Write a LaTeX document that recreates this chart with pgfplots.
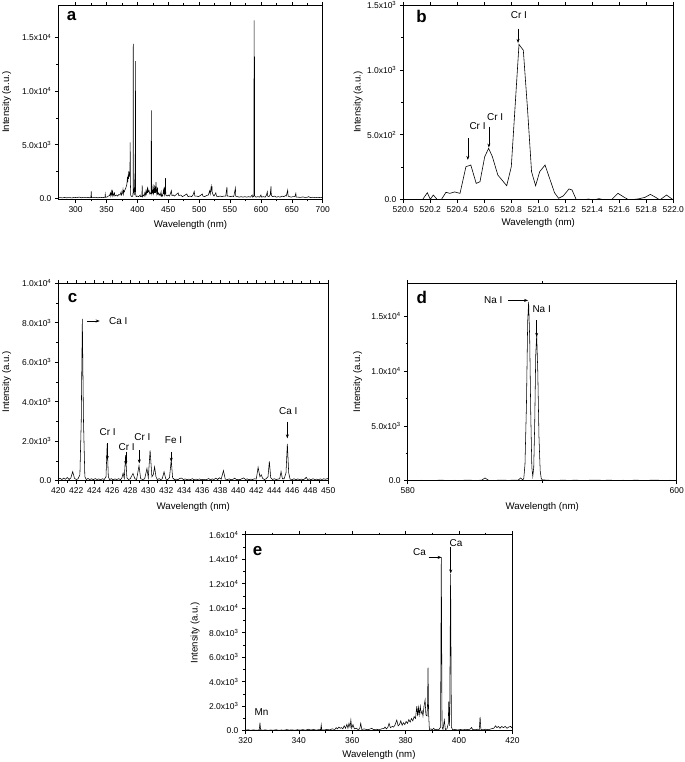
\documentclass[border=0pt]{standalone}
\usepackage{fontspec}
\setmainfont{Liberation Sans}
\usepackage{pgfplots}
\pgfplotsset{compat=1.18}
\usetikzlibrary{arrows.meta}
\pgfplotsset{
  panel/.style={
    scale only axis,
    scaled x ticks=false, scaled y ticks=false,
    axis line style={line width=0.8pt},
    tick align=outside,
    xtick pos=both, ytick pos=left,
    major tick length=3.5bp, minor tick length=2bp,
    every tick/.style={black, line width=0.6pt},
    tick label style={font=\fontsize{8.5}{9}\selectfont},
    label style={font=\fontsize{9.7}{11}\selectfont},
    xlabel={Wavelength (nm)}, ylabel={Intensity (a.u.)},
    minor x tick num=1, minor y tick num=1,
    anchor=south west,
  },
  spec/.style={black, line width=0.55pt, no marks},
}
\tikzset{
  arr/.style={-{Stealth[length=4bp,width=3bp]}, line width=0.6pt},
  ann/.style={font=\fontsize{10}{11}\selectfont},
  lett/.style={font=\bfseries\fontsize{17}{17}\selectfont},
}
\begin{document}
\begin{tikzpicture}
\useasboundingbox (0,0) rectangle (685bp,-762bp);
% ---------------- a ----------------
\begin{axis}[panel, at={(58.3bp,-199.3bp)}, width=264.4bp, height=194bp,
  xmin=272, xmax=700, ymin=-100, ymax=18000,
  xtick={300,350,...,700}, xticklabels={300,350,400,450,500,550,600,650,700},
  ytick={0,5000,10000,15000},
  yticklabels={0.0,5.0x10\textsuperscript{3},1.0x10\textsuperscript{4},1.5x10\textsuperscript{4}},
  xlabel style={at={(axis description cs:0.5,-0.132)}, anchor=center},
  ylabel style={at={(axis description cs:-0.195,0.5)}, anchor=center}]
\addplot[spec] coordinates {
(272,40) (276,60) (278,30) (282,70) (285,40) (290,60) (294,30) (298,80) (302,50) (306,110) (309,40) (313,90) (317,50) (320,80) (323,40) (324.8,60) (325.3,650) (325.8,60) (328,50) (332,90) (336,40) (340,80) (344,60) (347.5,90) (348,350) (348.5,80) (351,120) (353,200) (355,250) (356.5,500) (357,200) (358,400) (358.7,800) (359.3,300) (360,600) (361,250) (363,500) (363.5,200) (366,300) (368,200) (370,350) (372,300) (373.7,600) (374.3,300) (376,500) (376.7,800) (377.3,400) (378,700) (379,600) (380,800) (381,900) (382,1100) (383,1300) (384,2000) (384.5,1500) (385,2200) (385.6,1800) (386,2500) (386.6,2100) (387,2400) (387.5,2000) (388,2600) (388.35,5200) (388.7,1500) (389.2,300) (390,200) (391,150) (392.5,200) (393.0,500) (393.37,14400) (393.7,500) (394.4,900) (395,300) (396.1,2300) (396.5,600) (396.85,12800) (397.2,400) (398,150) (400,200) (402,150) (404.5,300) (405,150) (407.3,150) (407.8,1200) (408.3,150) (410,300) (411,200) (412,500) (413,300) (414,700) (415,400) (416,800) (416.5,500) (417,900) (418,600) (419,700) (420,400) (421,500) (421.6,500) (422.2,400) (422.67,8200) (423.1,400) (424,700) (425,500) (425.43,1300) (425.9,400) (427,600) (427.5,1200) (428,500) (429,900) (429.5,500) (430.2,1500) (430.8,700) (431.5,400) (432.5,1000) (433,400) (434,500) (435,300) (436,400) (437,250) (438.4,600) (439,200) (440,300) (441,200) (442.2,700) (442.8,400) (443.5,1000) (444,300) (444.9,500) (445.48,1880) (446,300) (448,200) (450,300) (452,200) (453,350) (455,700) (456,250) (458,300) (460,200) (463,350) (466,500) (467,250) (470,300) (473,150) (476,250) (480,400) (482,150) (485,200) (488,150) (490,300) (492,650) (493,200) (496,200) (499,150) (502,250) (505,400) (506,200) (509,150) (512,250) (515,300) (516,500) (517,700) (518,400) (519,900) (519.5,1100) (520,800) (520.8,1100) (521,600) (522,400) (524,200) (527,500) (528,200) (531,150) (534,200) (537,150) (540,200) (543,200) (545,1050) (545.5,200) (548,200) (551,150) (554,200) (556,150) (558.7,950) (559.2,200) (562,150) (565,100) (568,150) (571,100) (574,150) (577,100) (580,150) (583,100) (585.8,300) (586.5,100) (588,150) (588.5,250) (588.99,16600) (589.3,500) (589.59,13200) (589.9,200) (592,100) (595,150) (598,100) (600,300) (601,100) (604,150) (607,100) (609,300) (610.3,600) (611,200) (613,150) (615,300) (616.3,1100) (616.8,250) (619,150) (622,200) (625,100) (628,150) (631,100) (634,200) (637,150) (640,250) (641,200) (643.3,750) (644,200) (646,150) (649,100) (652,150) (655,150) (656.5,450) (657.2,100) (660,100) (664,80) (668,120) (672,70) (676,100) (677,150) (680,60) (684,90) (688,50) (692,80) (696,60) (700,70)
};
\node[lett] at (rel axis cs:0.05,0.946) {a};
\end{axis}
% ---------------- b ----------------
\begin{axis}[panel, at={(403.3bp,-199.3bp)}, width=270bp, height=194bp,
  xmin=520, xmax=522, ymin=0, ymax=1500,
  xtick={520,520.2,...,522.01},
  xticklabels={520.0,520.2,520.4,520.6,520.8,521.0,521.2,521.4,521.6,521.8,522.0},
  ytick={0,500,1000,1500},
  yticklabels={0.0,5.0x10\textsuperscript{2},1.0x10\textsuperscript{3},1.5x10\textsuperscript{3}},
  xlabel style={at={(axis description cs:0.5,-0.122)}, anchor=center},
  ylabel style={at={(axis description cs:-0.167,0.5)}, anchor=center}]
\addplot[spec, line width=0.6pt] coordinates {
(520.00,-40) (520.10,-20) (520.144,0) (520.178,51) (520.20,0) (520.222,33) (520.25,0) (520.28,-5) (520.316,54) (520.345,46) (520.38,57) (520.42,46) (520.464,252) (520.50,265) (520.54,123) (520.568,136) (520.603,329) (520.632,394) (520.66,329) (520.70,188) (520.766,105) (520.80,252) (520.857,1197) (520.889,1153) (520.92,700) (520.95,213) (520.98,105) (521.01,213) (521.05,265) (521.12,51) (521.15,8) (521.185,26) (521.227,80) (521.25,72) (521.28,0) (521.33,-5) (521.37,2) (521.41,-5) (521.45,5) (521.49,-5) (521.54,-5) (521.59,46) (521.63,20) (521.67,-5) (521.74,3) (521.79,15) (521.83,38) (521.87,15) (521.9,-5) (521.95,33) (522.0,-5)
};
\node[lett] at (rel axis cs:0.068,0.94) {b};
\node[ann] at (axis cs:520.857,1423) {Cr I};
\draw[arr] (axis cs:520.85,1320) -- (axis cs:520.85,1209);
\node[ann] at (axis cs:520.55,566) {Cr I};
\draw[arr] (axis cs:520.478,471) -- (axis cs:520.478,305);
\node[ann] at (axis cs:520.68,633) {Cr I};
\draw[arr] (axis cs:520.634,561) -- (axis cs:520.634,400);
\end{axis}
% ---------------- c ----------------
\begin{axis}[panel, at={(58.3bp,-480.7bp)}, width=270bp, height=197.4bp,
  xmin=420, xmax=450, ymin=0, ymax=10000,
  xtick={420,422,...,450},
  xticklabels={420,422,424,426,428,430,432,434,436,438,440,442,444,446,448,450},
  ytick={0,2000,4000,6000,8000,10000},
  yticklabels={0.0,2.0x10\textsuperscript{3},4.0x10\textsuperscript{3},6.0x10\textsuperscript{3},8.0x10\textsuperscript{3},1.0x10\textsuperscript{4}},
  xlabel style={at={(axis description cs:0.5,-0.132)}, anchor=center},
  ylabel style={at={(axis description cs:-0.191,0.5)}, anchor=center}]
\addplot[spec] coordinates {
(420.0,80) (420.2,120) (420.4,60) (420.6,130) (420.8,70) (421.0,160) (421.2,60) (421.4,150) (421.6,460) (421.8,120) (422.0,60) (422.2,100) (422.4,300) (422.55,3000) (422.67,8200) (422.8,3000) (422.95,200) (423.1,60) (423.3,110) (423.5,60) (423.7,100) (423.9,50) (424.1,110) (424.3,60) (424.5,90) (424.7,50) (424.9,100) (425.1,60) (425.3,200) (425.43,1850) (425.56,200) (425.7,60) (425.9,100) (426.1,50) (426.3,90) (426.5,60) (426.7,100) (426.9,60) (427.05,120) (427.2,380) (427.33,120) (427.48,1300) (427.62,150) (427.8,60) (428.0,100) (428.3,370) (428.5,100) (428.7,60) (428.97,760) (429.15,100) (429.4,60) (429.6,100) (429.85,620) (430.0,150) (430.2,1540) (430.4,200) (430.55,300) (430.7,700) (430.85,200) (431.0,60) (431.2,100) (431.4,60) (431.55,100) (431.75,450) (431.95,80) (432.15,60) (432.35,150) (432.55,1050) (432.7,150) (432.9,60) (433.1,80) (433.3,50) (433.5,120) (433.7,130) (433.9,60) (434.1,90) (434.3,50) (434.5,80) (434.7,60) (434.9,100) (435.1,50) (435.3,80) (435.5,60) (435.7,90) (435.9,50) (436.1,70) (436.3,50) (436.5,60) (436.7,110) (436.9,50) (437.1,90) (437.3,60) (437.5,130) (437.7,60) (437.9,150) (438.1,80) (438.35,510) (438.55,80) (438.8,60) (439.0,90) (439.2,50) (439.4,70) (439.6,130) (439.8,50) (440.0,70) (440.2,60) (440.4,100) (440.6,140) (440.8,60) (441.0,90) (441.2,50) (441.4,80) (441.6,60) (441.8,100) (442.0,80) (442.2,680) (442.4,200) (442.55,300) (442.7,120) (442.9,60) (443.1,100) (443.3,200) (443.45,980) (443.6,150) (443.8,60) (444.0,100) (444.2,60) (444.4,80) (444.6,100) (444.75,460) (444.9,100) (445.1,100) (445.3,400) (445.45,1870) (445.6,400) (445.75,80) (446.0,60) (446.2,100) (446.4,50) (446.6,90) (446.8,60) (447.0,80) (447.2,50) (447.4,100) (447.55,170) (447.7,60) (447.9,90) (448.1,50) (448.3,100) (448.5,60) (448.7,80) (448.9,50) (449.1,90) (449.3,60) (449.5,100) (449.7,70) (449.9,110) (450.0,80)
};
\node[lett] at (rel axis cs:0.053,0.927) {c};
\node[ann] at (axis cs:426.67,8090) {Ca I};
\draw[arr] (axis cs:423.2,8090) -- (axis cs:424.6,8090);
\node[ann] at (axis cs:425.48,2483) {Cr I};
\draw[arr] (axis cs:425.45,1890) -- (axis cs:425.45,1050);
\node[ann] at (axis cs:427.6,1723) {Cr I};
\draw[arr] (axis cs:427.5,1470) -- (axis cs:427.5,794);
\node[ann] at (axis cs:429.34,2230) {Cr I};
\draw[arr] (axis cs:429.0,1554) -- (axis cs:429.0,878);
\node[ann] at (axis cs:432.8,2060) {Fe I};
\draw[arr] (axis cs:432.55,1470) -- (axis cs:432.55,963);
\node[ann] at (axis cs:445.56,3530) {Ca I};
\draw[arr] (axis cs:445.45,2990) -- (axis cs:445.45,2145);
\end{axis}
% ---------------- d ----------------
\begin{axis}[panel, at={(407.7bp,-480.7bp)}, width=269bp, height=197.4bp,
  xmin=580, xmax=600, ymin=0, ymax=18000,
  xtick={580,600}, xticklabels={580,600},
  ytick={0,5000,10000,15000},
  yticklabels={0.0,5.0x10\textsuperscript{3},1.0x10\textsuperscript{4},1.5x10\textsuperscript{4}},
  xlabel style={at={(axis description cs:0.5,-0.132)}, anchor=center},
  ylabel style={at={(axis description cs:-0.186,0.5)}, anchor=center}]
\addplot[spec] coordinates {
(580,30) (580.5,10) (581,40) (581.5,20) (582,30) (582.5,50) (583,20) (583.5,40) (584,30) (584.5,60) (585,20) (585.5,50) (585.75,250) (586.0,40) (586.5,30) (587,60) (587.5,30) (588,60) (588.2,40) (588.4,250) (588.55,80) (588.63,200) (588.72,1500) (588.83,7000) (588.92,14500) (588.99,16300) (589.07,13000) (589.15,6000) (589.23,1200) (589.3,400) (589.37,1200) (589.44,5000) (589.52,11500) (589.59,13300) (589.67,10000) (589.76,4000) (589.85,900) (589.93,200) (590.0,80) (590.5,40) (591,20) (591.5,50) (592,30) (592.5,50) (593,20) (593.5,40) (594,60) (594.5,30) (595,50) (595.5,20) (596,40) (596.5,30) (597,50) (597.5,20) (598,40) (598.5,50) (599,20) (599.5,40) (600,30)
};
\node[lett] at (rel axis cs:0.052,0.929) {d};
\node[ann] at (axis cs:586.36,16440) {Na I};
\draw[arr] (axis cs:587.48,16440) -- (axis cs:588.95,16440);
\node[ann] at (axis cs:589.96,15680) {Na I};
\draw[arr] (axis cs:589.59,14640) -- (axis cs:589.59,13120);
\end{axis}
% ---------------- e ----------------
\begin{axis}[panel, at={(245.4bp,-730.7bp)}, width=267bp, height=196bp,
  xmin=320, xmax=420, ymin=0, ymax=16000,
  xtick={320,340,...,420}, xticklabels={320,340,360,380,400,420},
  ytick={0,2000,...,16000},
  yticklabels={0.0,2.0x10\textsuperscript{3},4.0x10\textsuperscript{3},6.0x10\textsuperscript{3},8.0x10\textsuperscript{3},1.0x10\textsuperscript{4},1.2x10\textsuperscript{4},1.4x10\textsuperscript{4},1.6x10\textsuperscript{4}},
  xlabel style={at={(axis description cs:0.5,-0.124)}, anchor=center},
  ylabel style={at={(axis description cs:-0.188,0.5)}, anchor=center}]
\addplot[spec] coordinates {
(320,40) (321,80) (322,30) (323,70) (324,40) (325,60) (325.2,100) (325.45,650) (325.7,80) (326.5,40) (327.5,70) (328.5,30) (329.5,60) (330.5,40) (331.5,80) (332.5,30) (333.5,60) (334.5,40) (335.5,90) (336.5,50) (337.5,70) (338.5,40) (339.5,80) (340.5,50) (341.5,90) (342.5,40) (343.5,120) (344.5,60) (345.5,100) (346.5,50) (347.5,90) (348.2,100) (348.4,470) (348.6,80) (349.5,60) (350.5,100) (351.5,70) (352.5,150) (353.5,100) (354,250) (354.5,150) (355,300) (355.5,200) (356,250) (356.5,150) (357,400) (357.5,200) (358,520) (358.4,200) (358.8,600) (359.2,300) (359.5,870) (359.8,200) (360.3,500) (360.8,150) (361.5,200) (362.2,100) (362.8,150) (363.2,600) (363.6,100) (364.5,150) (365.5,80) (366.5,120) (367.3,200) (368,80) (369,120) (370,80) (371,150) (372,200) (372.3,300) (372.8,150) (373.3,250) (373.8,600) (374.3,250) (375,350) (375.5,300) (376,450) (376.7,870) (377.2,400) (377.7,500) (378.2,800) (378.7,450) (379.2,650) (379.7,500) (380.2,750) (380.7,600) (381.2,900) (381.7,700) (382.2,1000) (382.7,800) (383.2,1150) (383.7,1000) (384.2,2000) (384.5,1200) (384.8,1900) (385.1,1300) (385.5,2000) (385.8,1400) (386.2,1600) (386.5,1200) (386.9,2000) (387.3,2500) (387.6,1300) (388.0,1200) (388.2,2000) (388.4,5140) (388.6,1500) (388.9,100) (389.5,150) (390.0,80) (390.5,200) (391.0,80) (391.8,120) (392.5,100) (393.1,300) (393.37,14150) (393.65,300) (394.0,100) (394.5,870) (394.9,100) (395.5,150) (396.0,600) (396.15,2370) (396.5,400) (396.85,12800) (397.15,300) (397.6,80) (398.5,100) (399.5,60) (400.5,100) (401.5,70) (402.5,120) (403.5,80) (404.3,150) (404.7,270) (405.1,100) (406,80) (407,120) (407.6,100) (407.9,1120) (408.2,100) (409,80) (410,120) (411,80) (412,150) (413,200) (413.7,400) (414.2,250) (414.8,350) (415.3,200) (416,350) (416.6,250) (417.3,350) (418,200) (418.6,300) (419.3,350) (420,200)
};
\node[lett] at (rel axis cs:0.046,0.917) {e};
\node[ann] at (axis cs:326,1550) {Mn};
\node[ann] at (axis cs:385.2,14560) {Ca};
\draw[arr] (axis cs:388.6,14150) -- (axis cs:393.5,14150);
\node[ann] at (axis cs:398.9,15290) {Ca};
\draw[arr] (axis cs:396.9,15020) -- (axis cs:396.9,12840);
\end{axis}
\end{tikzpicture}
\end{document}
